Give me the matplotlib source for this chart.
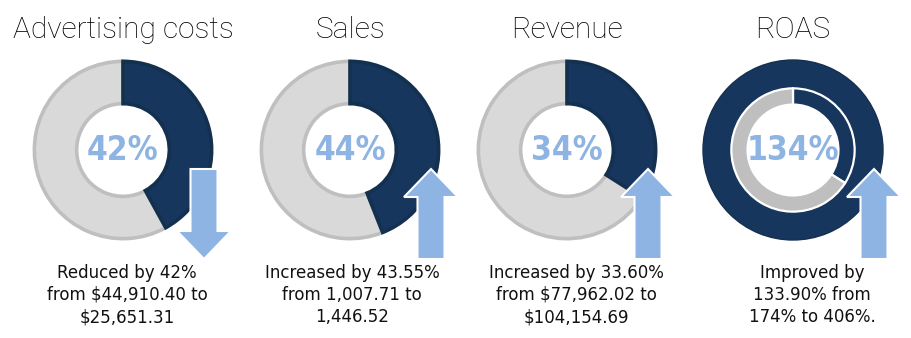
import matplotlib
matplotlib.use("Agg")
import matplotlib.pyplot as plt
from matplotlib.patches import Polygon
from matplotlib import font_manager as fm

# ---- data ----
titles = ["Advertising costs", "Sales", "Revenue", "ROAS"]
pct_change = [42, 44, 34, 134]          # value shown in the centre of each ring
direction = [-1, 1, 1, 1]               # -1 = decrease, +1 = increase
captions = [
    "Reduced by 42%\nfrom $44,910.40 to\n$25,651.31",
    "Increased by 43.55%\nfrom 1,007.71 to\n1,446.52",
    "Increased by 33.60%\nfrom $77,962.02 to\n$104,154.69",
    "Improved by\n133.90% from\n174% to 406%.",
]

# ---- style ----
NAVY = "#17365D"
NAVY_EDGE = "#14304F"
GREY = "#D9D9D9"
GREY_EDGE = "#BFBFBF"
ARROW = "#8DB4E2"
CENTER_TXT = "#8DB4E2"

W, H = 911, 338
centers_x = [123, 350, 567, 793]
caption_x = [127, 352, 576, 812]
cy = 150
R = 90

# pick a narrow bold face for the ring labels if one is installed
narrow = [f for f in fm.fontManager.ttflist
          if ("Condensed" in f.name or "Narrow" in f.name
              or f.stretch in ("condensed", "semi-condensed", 600, 500)
              or "Condensed" in f.fname or "Narrow" in f.fname)]
narrow_bold = [f for f in narrow if (f.weight in ("bold", 700) or "Bold" in f.fname)]
center_family = ["DejaVu Sans"]
center_stretch = "normal"
if narrow_bold:
    center_family = [narrow_bold[0].name, "DejaVu Sans"]
    center_stretch = narrow_bold[0].stretch

fig = plt.figure(figsize=(W / 100, H / 100), dpi=100)
fig.patch.set_facecolor("white")


def ring_axes(cx):
    return fig.add_axes([(cx - R) / W, (H - cy - R) / H, 2 * R / W, 2 * R / H])


for i, (cx, val) in enumerate(zip(centers_x, pct_change)):
    ax = ring_axes(cx)
    if val <= 100:
        wedges, _ = ax.pie([val, 100 - val], radius=0.985, startangle=90,
                           counterclock=False, colors=[NAVY, GREY],
                           wedgeprops=dict(width=0.47, linewidth=2.6))
        wedges[0].set_edgecolor(NAVY_EDGE)
        wedges[1].set_edgecolor(GREY_EDGE)
        wedges[0].set_zorder(3)
    else:
        # outer full ring for the first 100 %, inner ring for the excess
        ax.pie([100], radius=1.0, startangle=90, counterclock=False,
               colors=[NAVY], wedgeprops=dict(width=0.33, linewidth=1.0,
                                              edgecolor=NAVY_EDGE))
        extra = val - 100
        ax.pie([extra, 100 - extra], radius=0.685, startangle=90,
               counterclock=False, colors=[NAVY, GREY_EDGE],
               wedgeprops=dict(width=0.18, linewidth=1.6, edgecolor="white"))
    ax.set_xlim(-1.0, 1.0)
    ax.set_ylim(-1.0, 1.0)
    ax.set_aspect("equal")
    ax.axis("off")

# overlay in pixel coordinates for titles, labels and arrows
ov = fig.add_axes([0, 0, 1, 1])
ov.set_xlim(0, W)
ov.set_ylim(H, 0)
ov.axis("off")

title_font = dict(family=["Roboto", "DejaVu Sans"], weight="light", size=21.5,
                  color="black")
caption_font = dict(family=["DejaVu Sans"], size=12, color="#111111")
center_font = dict(family=center_family, stretch=center_stretch,
                   weight="bold", size=24, color=CENTER_TXT)

for cx, cxc, t, val, cap, d in zip(centers_x, caption_x, titles, pct_change,
                                   captions, direction):
    ov.text(cx, 30, t, ha="center", va="center", **title_font)
    ov.text(cx, cy, f"{val}%", ha="center", va="center", **center_font)
    ov.text(cxc, 295, cap, ha="center", va="center", linespacing=1.3,
            **caption_font)

    # block arrow at the lower right of each ring
    ax_x = cx + 81
    top, bottom = cy + 19, cy + 109
    sw, hw, hl = 13.5, 27, 28
    if d > 0:
        pts = [(ax_x, top), (ax_x + hw, top + hl), (ax_x + sw, top + hl),
               (ax_x + sw, bottom), (ax_x - sw, bottom), (ax_x - sw, top + hl),
               (ax_x - hw, top + hl)]
    else:
        pts = [(ax_x, bottom), (ax_x + hw, bottom - hl), (ax_x + sw, bottom - hl),
               (ax_x + sw, top), (ax_x - sw, top), (ax_x - sw, bottom - hl),
               (ax_x - hw, bottom - hl)]
    ov.add_patch(Polygon(pts, closed=True, facecolor=ARROW, edgecolor="white",
                         linewidth=1.5, joinstyle="miter", zorder=5))

fig.savefig("out.png", dpi=100, facecolor="white")
